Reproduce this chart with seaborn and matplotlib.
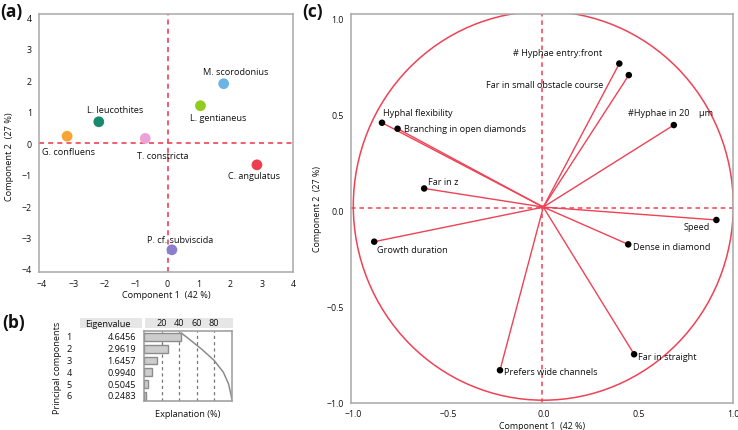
import numpy as np
import pandas as pd
import seaborn as sns
import matplotlib.pyplot as plt
from matplotlib.patches import Ellipse, Rectangle

# ---- data ----
species = ['M. scorodonius', 'L. gentianeus', 'L. leucothites', 'G. confluens',
           'T. constricta', 'C. angulatus', 'P. cf. subviscida']
pc1_scores = [1.79, 1.05, -2.19, -3.20, -0.71, 2.85, 0.14]
pc2_scores = [1.89, 1.19, 0.68, 0.22, 0.15, -0.69, -3.39]
species_colors = ['#6cb4e6', '#8fcc1e', '#1a8a6e', '#f7a535', '#eba2d6', '#ec3e4e', '#8a7fcf']

components = ['1', '2', '3', '4', '5', '6']
eigenvalues = ['4.6456', '2.9619', '1.6457', '0.9940', '0.5045', '0.2483']
explanation = [42.2, 26.9, 15.0, 9.0, 4.6, 2.3]
curve_row = [-0.33, 0, 1, 2, 3, 4, 5, 5.25]
curve_pct = [42.2, 48, 65, 80, 90.5, 96.5, 99.5, 100]

variables = ['# Hyphae entry:front', 'Far in small obstacle course', '#Hyphae in 20    µm',
             'Hyphal flexibility', 'Branching in open diamonds', 'Far in z', 'Speed',
             'Growth duration', 'Dense in diamond', 'Far in straight', 'Prefers wide channels']
load1 = [0.40, 0.45, 0.687, -0.849, -0.767, -0.627, 0.911, -0.89, 0.447, 0.478, -0.228]
load2 = [0.764, 0.704, 0.444, 0.456, 0.425, 0.114, -0.05, -0.163, -0.177, -0.749, -0.832]

sns.set_style('white')
plt.rcParams['font.family'] = ['Open Sans', 'DejaVu Sans']

W, H = 738, 431
fig = plt.figure(figsize=(W / 100, H / 100), dpi=100)
PT = 72 / 100  # px -> points
TXT = '#111111'


def px_axes(left, top, right, bottom):
    return fig.add_axes([left / W, 1 - bottom / H, (right - left) / W, (bottom - top) / H])


RED = '#ee4255'
SPINE = '#a8a8a8'


def style_axes(ax, size=6.4):
    for s in ax.spines.values():
        s.set_color(SPINE)
        s.set_linewidth(1.1)
    ax.tick_params(which='both', direction='out', color=SPINE, width=0.9, labelsize=size,
                   labelcolor=TXT, pad=1.5)
    ax.tick_params(which='major', length=3.5)
    ax.tick_params(which='minor', length=2.5)


# ---- (a) scores ----
ax_a = px_axes(39, 15, 293, 272.7)
df_a = pd.DataFrame({'pc1': pc1_scores, 'pc2': pc2_scores, 'species': species})
sns.scatterplot(data=df_a, x='pc1', y='pc2', hue='species',
                palette=dict(zip(species, species_colors)), s=60, edgecolor='none',
                legend=False, ax=ax_a, zorder=3)
ax_a.axhline(0, color=RED, lw=1.2, ls=(0, (3, 2.5)), zorder=1)
ax_a.axvline(0, color=RED, lw=1.2, ls=(0, (3, 2.5)), zorder=1)
label_off_a = {'M. scorodonius': (12, -12), 'L. gentianeus': (18, 12), 'L. leucothites': (16, -12),
               'G. confluens': (1, 15), 'T. constricta': (18, 17), 'C. angulatus': (-3, 11),
               'P. cf. subviscida': (8, -10)}
for name, x, y in zip(species, pc1_scores, pc2_scores):
    dx, dy = label_off_a[name]
    ax_a.annotate(name, (x, y), xytext=(dx * PT, -dy * PT), textcoords='offset points',
                  ha='center', va='center', fontsize=6.6, color=TXT)
ax_a.set_xlim(-4.096, 4.0)
ax_a.set_ylim(-4.086, 4.105)
ax_a.set_xticks(range(-4, 5))
ax_a.set_yticks(range(-4, 5))
ax_a.set_xlabel('Component 1  (42 %)', fontsize=6.6, labelpad=2, color=TXT)
ax_a.set_ylabel('Component 2  (27 %)', fontsize=6.6, labelpad=3, color=TXT)
ax_a.yaxis.set_label_coords(-0.098, 0.45)
style_axes(ax_a)

# ---- (b) eigenvalues ----
for l, r in [(80, 141.7), (145, 232.7)]:
    fig.patches.append(Rectangle((l / W, 1 - 329.3 / H), (r - l) / W, 10 / H,
                                 transform=fig.transFigure, facecolor='#e6e6e6',
                                 edgecolor='none', zorder=-5))

bar_ax = px_axes(144.3, 331.7, 231.7, 401.7)
df_b = pd.DataFrame({'pc': components, 'expl': explanation})
sns.barplot(data=df_b, x='expl', y='pc', orient='h', color='#cdcdcd', edgecolor='#8c8c8c',
            linewidth=1.0, width=0.65, saturation=1, ax=bar_ax)
bar_ax.plot(curve_pct, curve_row, color='#8c8c8c', lw=1.1)
for v in [20, 40, 60, 80]:
    bar_ax.axvline(v, color='#777777', lw=0.9, ls=(0, (2.5, 2.5)), zorder=0)
bar_ax.set_xlim(0, 100)
bar_ax.set_ylim(5.4, -0.52)
bar_ax.set_xticks([20, 40, 60, 80])
bar_ax.set_xticklabels(['20', '40', '60', '80'])
bar_ax.tick_params(axis='x', which='both', length=0, pad=2.5, labelsize=6.6, labelcolor=TXT,
                   top=False, bottom=False, labeltop=True, labelbottom=False)
bar_ax.set_yticks([])
bar_ax.set_ylabel('')
bar_ax.set_xlabel('Explanation (%)', fontsize=6.6, labelpad=6, color=TXT)
bar_ax.xaxis.set_label_position('bottom')
for s in bar_ax.spines.values():
    s.set_color('#9a9a9a')
    s.set_linewidth(1.1)

tbl_ax = px_axes(60, 331.7, 142, 401.7)
tbl_ax.set_ylim(5.4, -0.52)
tbl_ax.set_xlim(0, 1)
tbl_ax.axis('off')
for i, (c, e) in enumerate(zip(components, eigenvalues)):
    tbl_ax.text(0.113, i, c, ha='center', va='center', fontsize=6.6, color=TXT)
    tbl_ax.text(0.927, i, e, ha='right', va='center', fontsize=6.6, color=TXT)

fig.text(108 / W, 1 - 324.3 / H, 'Eigenvalue', ha='center', va='center', fontsize=6.6,
         color=TXT)
fig.text(57 / W, 1 - 368 / H, 'Principal components', rotation=90, ha='center',
         va='center', fontsize=6.6, color=TXT)

# ---- (c) loadings ----
ax_c = px_axes(350.7, 15, 733.3, 403.5)
ORIGIN = (0.0, 0.017)
ax_c.add_patch(Ellipse((ORIGIN[0], 0.024), 2.0, 2.024, fill=False, edgecolor=RED, lw=1.1))
ax_c.axhline(0.014, color=RED, lw=1.1, ls=(0, (3, 2.5)), zorder=1)
ax_c.axvline(-0.005, color=RED, lw=1.1, ls=(0, (3, 2.5)), zorder=1)
for x, y in zip(load1, load2):
    ax_c.plot([ORIGIN[0], x], [ORIGIN[1], y], color=RED, lw=1.0, zorder=2)
df_c = pd.DataFrame({'c1': load1, 'c2': load2})
sns.scatterplot(data=df_c, x='c1', y='c2', color='black', s=22, edgecolor='none',
                ax=ax_c, zorder=3)
label_off_c = {
    '# Hyphae entry:front': (-17.6, -11, 'right'),
    'Far in small obstacle course': (-25, 9.3, 'right'),
    '#Hyphae in 20    µm': (-45.7, -12.7, 'left'),
    'Hyphal flexibility': (1, -10.3, 'left'),
    'Branching in open diamonds': (6.7, 0, 'left'),
    'Far in z': (4, -7.3, 'left'),
    'Speed': (-6.7, 6.3, 'right'),
    'Growth duration': (3, 7.4, 'left'),
    'Dense in diamond': (4.7, 2, 'left'),
    'Far in straight': (3.7, 2, 'left'),
    'Prefers wide channels': (4, 1.7, 'left'),
}
for name, x, y in zip(variables, load1, load2):
    dx, dy, ha = label_off_c[name]
    ax_c.annotate(name, (x, y), xytext=(dx * PT, -dy * PT), textcoords='offset points',
                  ha=ha, va='center', fontsize=6.6, color=TXT)
ax_c.set_xlim(-1.0137, 1.0)
ax_c.set_ylim(-0.997, 1.022)
ax_c.set_xticks(np.arange(-1, 1.01, 0.5))
ax_c.set_yticks(np.arange(-1, 1.01, 0.5))
ax_c.set_xticks(np.arange(-1, 1.01, 0.25), minor=True)
ax_c.set_yticks(np.arange(-1, 1.01, 0.25), minor=True)
ax_c.xaxis.set_major_formatter('{x:.1f}')
ax_c.yaxis.set_major_formatter('{x:.1f}')
ax_c.set_xlabel('Component 1  (42 %)', fontsize=6.4, labelpad=1.5, color=TXT)
ax_c.set_ylabel('Component 2  (27 %)', fontsize=6.4, labelpad=3, color=TXT)
style_axes(ax_c, size=6.3)

# ---- panel letters ----
for x, y, t in [(0, 12, '(a)'), (2, 323, '(b)'), (302, 12, '(c)')]:
    fig.text(x / W, 1 - y / H, t, ha='left', va='center', fontsize=12.5, fontweight='bold',
             color='#111111')

fig.savefig('out.png', dpi=100)
